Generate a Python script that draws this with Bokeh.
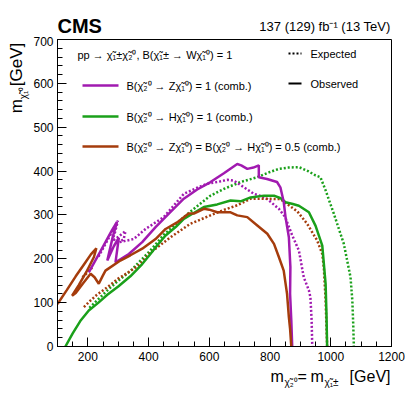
import math
from bokeh.plotting import figure
from bokeh.layouts import column, row
from bokeh.models import Label, FixedTicker, Range1d
from bokeh.core.properties import value
from bokeh.embed import file_html
from bokeh.resources import INLINE

# ---------------- data (m_chi2 = m_chi1pm [GeV], m_chi1^0 [GeV]) ----------------
Z_obs_x = [203, 240, 280, 296, 282, 264, 285, 302, 291, 335, 379, 423, 470, 516, 560, 604, 648, 692, 705, 725, 745, 763, 763, 790, 823, 834, 845, 851, 862, 867, 866, 870, 873]
Z_obs_y = [169, 215, 266, 284, 250, 196, 228, 248, 192, 211, 238, 272, 305, 337, 358, 375, 395, 416, 413, 405, 408, 413, 386, 382, 375, 363, 330, 295, 249, 181, 120, 60, 0]

Z_exp_x = [235, 258, 280, 299, 290, 280, 300, 324, 318, 305, 351, 390, 450, 516, 560, 593, 626, 660, 681, 714, 747, 770, 791, 829, 850, 872, 895, 911, 928, 933, 937, 939]
Z_exp_y = [205, 234, 262, 287, 262, 240, 250, 263, 245, 238, 245, 268, 295, 348, 362, 371, 375, 380, 378, 363, 348, 343, 336, 314, 295, 255, 219, 158, 128, 112, 60, 0]

H_obs_x = [126, 150, 175, 203, 235, 264, 300, 340, 379, 406, 430, 456, 490, 516, 550, 582, 626, 670, 703, 736, 780, 813, 835, 851, 875, 895, 928, 950, 972, 983, 986, 988]
H_obs_y = [0, 30, 58, 82, 100, 118, 137, 160, 188, 211, 232, 253, 273, 291, 305, 318, 324, 333, 331, 340, 344, 344, 338, 329, 325, 321, 306, 275, 230, 143, 70, 0]

H_exp_x = [205, 230, 269, 300, 340, 379, 406, 450, 516, 560, 604, 650, 703, 758, 800, 829, 860, 895, 925, 950, 966, 983, 1010, 1043, 1065, 1071, 1074, 1076]
H_exp_y = [88, 105, 131, 150, 172, 200, 219, 255, 295, 320, 344, 360, 375, 386, 398, 405, 408, 409, 400, 390, 386, 356, 303, 234, 158, 105, 50, 0]

M_obs_x = [100, 130, 160, 190, 210, 228, 220, 195, 170, 148, 160, 185, 209, 222, 236, 248, 258, 307, 340, 379, 423, 456, 494, 532, 549, 582, 600, 626, 670, 692, 725, 758, 791, 813, 829, 845, 856, 862, 866, 870]
M_obs_y = [97, 128, 160, 190, 210, 224, 204, 170, 140, 116, 122, 145, 166, 158, 143, 160, 173, 196, 208, 223, 245, 268, 283, 303, 303, 314, 312, 306, 306, 299, 295, 276, 257, 234, 204, 173, 120, 67, 40, 0]

M_exp_x = [187, 209, 230, 264, 300, 340, 373, 406, 472, 538, 604, 650, 692, 736, 780, 834, 890, 922, 955, 972, 977, 983, 988]
M_exp_y = [90, 105, 118, 135, 155, 172, 188, 214, 249, 280, 299, 312, 322, 337, 337, 336, 308, 280, 242, 211, 181, 105, 0]
M_exp2_x = [182, 198, 214]
M_exp2_y = [158, 168, 180]

x_ticks = [200, 400, 600, 800, 1000, 1200]
y_ticks = [0, 100, 200, 300, 400, 500, 600, 700]

CHI = "\u03c7\u0303"
leg_title = f"pp \u2192 {CHI}\u2081\u00b1{CHI}\u2082\u2070, B({CHI}\u2081\u00b1 \u2192 W{CHI}\u2081\u2070) = 1"
leg_Z = f"B({CHI}\u2082\u2070 \u2192 Z{CHI}\u2081\u2070) = 1 (comb.)"
leg_H = f"B({CHI}\u2082\u2070 \u2192 H{CHI}\u2081\u2070) = 1 (comb.)"
leg_M = f"B({CHI}\u2082\u2070 \u2192 Z{CHI}\u2081\u2070) = B({CHI}\u2082\u2070 \u2192 H{CHI}\u2081\u2070) = 0.5 (comb.)"
lumi_text = "137 (129) fb\u207b\u00b9 (13 TeV)"

C_Z = "#a11ab0"
C_H = "#1aa01a"
C_M = "#a53c0c"
FONT = "Liberation Sans"
MID = 0.34  # distance (in em) from the alphabetic baseline up to the text middle

# ---------------- main figure (frame: x 57..391, y 39..346 on page) ----------------
p = figure(width=375, height=329, x_range=(100, 1200), y_range=(0, 700),
           output_backend="svg", toolbar_location=None, title=None,
           min_border_left=27, min_border_right=14, min_border_top=3, min_border_bottom=19)
p.background_fill_color = "white"
p.border_fill_color = "white"
p.outline_line_color = "black"
p.outline_line_width = 1
p.grid.visible = False

p.xaxis.ticker = FixedTicker(ticks=x_ticks, minor_ticks=list(range(100, 1201, 50)))
p.yaxis.ticker = FixedTicker(ticks=y_ticks, minor_ticks=list(range(0, 701, 20)))
for ax in (p.xaxis, p.yaxis):
    ax.major_tick_in = 9
    ax.major_tick_out = 0
    ax.minor_tick_in = 5
    ax.minor_tick_out = 0
    ax.axis_line_color = "black"
    ax.major_tick_line_color = "black"
    ax.minor_tick_line_color = "black"
    ax.major_label_text_font = FONT
    ax.major_label_text_font_size = "12px"
    ax.major_label_text_color = "black"
p.xaxis.major_label_standoff = 5
p.yaxis.major_label_standoff = 4


def dx(X):
    return 100 + (X - 57) / (334 / 1100)


def dy(Y):
    return (346 - Y) / (307 / 700)


def lab(X, Y, text, size):
    p.add_layout(Label(x=dx(X), y=dy(Y - MID * size), text=text, text_font=FONT, text_font_size=f"{size}px",
                       text_align="left", text_baseline="middle", text_color="black"))


LW = 2.5
p.line(H_exp_x, H_exp_y, line_color=C_H, line_width=LW, line_dash="2 2")
p.line(Z_exp_x, Z_exp_y, line_color=C_Z, line_width=LW, line_dash="2 2")
p.line(M_exp_x, M_exp_y, line_color=C_M, line_width=LW, line_dash="2 2")
p.line(M_exp2_x, M_exp2_y, line_color=C_M, line_width=LW, line_dash="2 2")
p.line(H_obs_x, H_obs_y, line_color=C_H, line_width=LW)
p.line(Z_obs_x, Z_obs_y, line_color=C_Z, line_width=LW)
p.line(M_obs_x, M_obs_y, line_color=C_M, line_width=LW)

# legend
p.segment(x0=[dx(82)] * 3, x1=[dx(118)] * 3, y0=[dy(85), dy(116), dy(146)], y1=[dy(85), dy(116), dy(146)],
          line_color=[C_Z, C_H, C_M], line_width=LW)
p.segment(x0=[dx(288)], x1=[dx(301)], y0=[dy(53)], y1=[dy(53)], line_color="black", line_width=2, line_dash="2 2")
p.segment(x0=[dx(288)], x1=[dx(301)], y0=[dy(83)], y1=[dy(83)], line_color="black", line_width=2)

lab(77, 58, leg_title, 11)
lab(126, 89, leg_Z, 11)
lab(126, 120, leg_H, 11)
lab(126, 150, leg_M, 11)
lab(310, 57, "Expected", 11)
lab(310, 87, "Observed", 11)


# ---------------- text panels around the main figure (page pixel coords) ----------------
def panel(x0, y0, w, h):
    f = figure(width=w, height=h, x_range=Range1d(x0, x0 + w), y_range=Range1d(-(y0 + h), -y0),
               output_backend="svg", toolbar_location=None, title=None,
               x_axis_location=None, y_axis_location=None, min_border=0)
    f.outline_line_color = None
    f.grid.visible = False
    f.background_fill_color = "white"
    f.border_fill_color = "white"
    return f


def ptext(f, X, Y, text, size, align="left", style="normal", vertical=False):
    # (X, Y): start of the alphabetic baseline, page pixels
    if vertical:
        cx, cy, ang = X - MID * size, Y, math.pi / 2
    else:
        cx, cy, ang = X, Y - MID * size, 0.0
    f.text(x=[cx], y=[-cy], text=[text], text_font=value(FONT), text_font_size=value(f"{size}px"),
           text_align=value(align), text_baseline=value("middle"), text_font_style=value(style),
           angle=ang, text_color="black")


header = panel(0, 0, 405, 36)
ptext(header, 57, 32, "CMS", 20, style="bold")
ptext(header, 390, 30, lumi_text, 13, align="right")

ylab = panel(0, 36, 30, 329)
ptext(ylab, 22, 115, "m", 17, vertical=True)
ptext(ylab, 26, 100, f"{CHI}\u2081\u2070", 10, vertical=True)
ptext(ylab, 22, 86, " [GeV]", 17, vertical=True)

footer = panel(0, 365, 405, 27)
ptext(footer, 270, 381, "m", 16)
ptext(footer, 284, 385, f"{CHI}\u2082\u2070", 10)
ptext(footer, 297, 381, "=", 16)
ptext(footer, 310, 381, "m", 16)
ptext(footer, 324, 385, f"{CHI}\u2081\u00b1", 10)
ptext(footer, 390, 381, "[GeV]", 16, align="right")

layout = column(header, row(ylab, p, spacing=0), footer, spacing=0)

open("out.html", "w").write(file_html(layout, INLINE))
